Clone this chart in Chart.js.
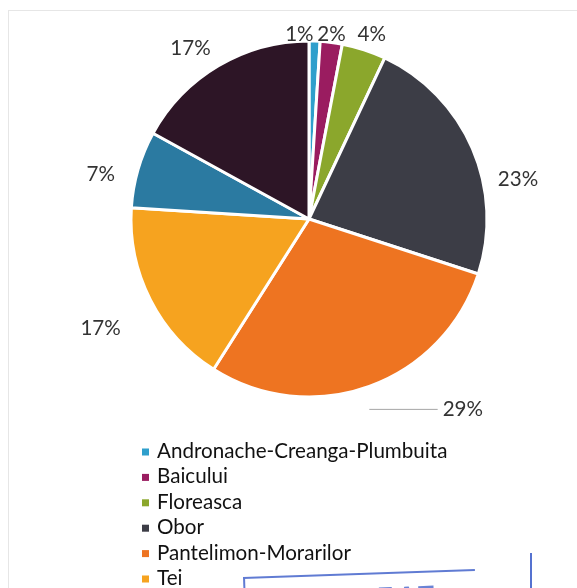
<!DOCTYPE html>
<html>
<head>
<meta charset="utf-8">
<script src="https://cdn.jsdelivr.net/npm/chart.js@4.4.1/dist/chart.umd.min.js"></script>
<style>
  html, body { margin: 0; padding: 0; background: #fff; overflow: hidden; }
  #wrap { position: relative; width: 577px; height: 588px; overflow: hidden; }
  #frame { position: absolute; left: 8px; top: 10px; width: 620px; height: 640px; border: 1px solid #e6e6e6; }
  #c { position: absolute; left: 0; top: 0; }
  .stamp { position: absolute; border-color: #2b4fc4; border-style: solid; border-width: 0; }
  #stampBox { left: 243px; top: 577px; width: 230px; height: 40px; border-top-width: 2px; border-left-width: 2px;
              transform-origin: left top; transform: rotate(-2deg); opacity: .75; }
  #stampSide { left: 530px; top: 553px; width: 0; height: 40px; border-left-width: 2px; opacity: .8; }
  #stampText { position: absolute; left: 345px; top: 581px; font: bold 26px "Liberation Sans", sans-serif;
               color: #2b4fc4; letter-spacing: 4px; opacity: .7; transform: rotate(-2deg); }
</style>
</head>
<body>
<div id="wrap">
  <div id="frame"></div>
  <canvas id="c" width="577" height="588"></canvas>
  <div class="stamp" id="stampBox"></div>
  <div class="stamp" id="stampSide"></div>
  <div id="stampText">VIZAT</div>
</div>
<script>
// zones and their share (%) of the total
const zones = [
  'Andronache-Creanga-Plumbuita',
  'Baicului',
  'Floreasca',
  'Obor',
  'Pantelimon-Morarilor',
  'Tei',
  'Vatra Luminoasa',
  'Colentina'
];
const shares = [1, 2, 4, 23, 29, 17, 7, 17];
const zoneColors = ['#2f9fcc', '#9a1c60', '#8ba72c', '#3c3d46', '#ee7421', '#f6a31f', '#2b7aa1', '#2d1526'];

const FONT = '20.6px Lato, "Open Sans", sans-serif';

// percent labels outside the pie, roughly where Excel put them
const pctLabels = {
  id: 'pctLabels',
  afterDatasetsDraw(chart, args, o) {
    const ctx = chart.ctx;
    const vals = chart.data.datasets[0].data;
    ctx.save();
    ctx.font = o.font;
    ctx.textAlign = 'center';
    ctx.textBaseline = 'alphabetic';
    chart.getDatasetMeta(0).data.forEach((arc, i) => {
      const p = arc.getProps(['x', 'y', 'startAngle', 'endAngle', 'outerRadius'], true);
      const mid = (p.startAngle + p.endAngle) / 2;
      const ux = Math.cos(mid), uy = Math.sin(mid);
      const txt = vals[i] + '%';
      const w = ctx.measureText(txt).width;
      const r = p.outerRadius + o.gap;
      const n = o.nudge[i] || [0, 0];
      const cx = p.x + ux * r + ux * w / 2 + n[0];
      const cy = p.y + uy * r + uy * o.capH / 2 + n[1];
      if (o.leader.includes(i)) {
        ctx.strokeStyle = '#a6a6a6';
        ctx.lineWidth = 1;
        ctx.beginPath();
        ctx.moveTo(p.x + ux * p.outerRadius, cy + 0.5);
        ctx.lineTo(cx - w / 2 - 5, cy + 0.5);
        ctx.stroke();
      }
      ctx.fillStyle = o.color;
      ctx.fillText(txt, cx, cy + o.capH / 2);
    });
    ctx.restore();
  }
};

// one-per-row legend under the pie
const listLegend = {
  id: 'listLegend',
  afterDraw(chart, args, o) {
    const ctx = chart.ctx;
    const ds = chart.data.datasets[0];
    ctx.save();
    ctx.font = o.font;
    ctx.textAlign = 'left';
    ctx.textBaseline = 'alphabetic';
    chart.data.labels.forEach((lab, i) => {
      const base = o.top + i * o.rowH;
      ctx.fillStyle = ds.backgroundColor[i];
      ctx.fillRect(o.left, base - 6 - o.box / 2, o.box, o.box);
      ctx.fillStyle = o.color;
      ctx.fillText(lab, o.left + o.textGap, base);
    });
    ctx.restore();
  }
};

new Chart(document.getElementById('c'), {
  type: 'pie',
  data: {
    labels: zones,
    datasets: [{
      data: shares,
      backgroundColor: zoneColors,
      borderColor: '#ffffff',
      borderWidth: 3,
      radius: 178
    }]
  },
  options: {
    responsive: false,
    animation: false,
    layout: { padding: { left: 41, right: 0, top: 41, bottom: 191 } },
    plugins: {
      legend: { display: false },
      tooltip: { enabled: false },
      pctLabels: {
        font: FONT,
        color: '#333333',
        gap: 11,
        capH: 15,
        leader: [4],
        nudge: [[-16, 11], [-3, 9], [0, 1], [17, 38], [83, 5], [-22, 19], [-13, 9], [-12, -2]]
      },
      listLegend: {
        font: FONT,
        color: '#111111',
        left: 142,
        textGap: 15,
        box: 7,
        top: 458,
        rowH: 25.4
      }
    }
  },
  plugins: [pctLabels, listLegend]
});
</script>
</body>
</html>
